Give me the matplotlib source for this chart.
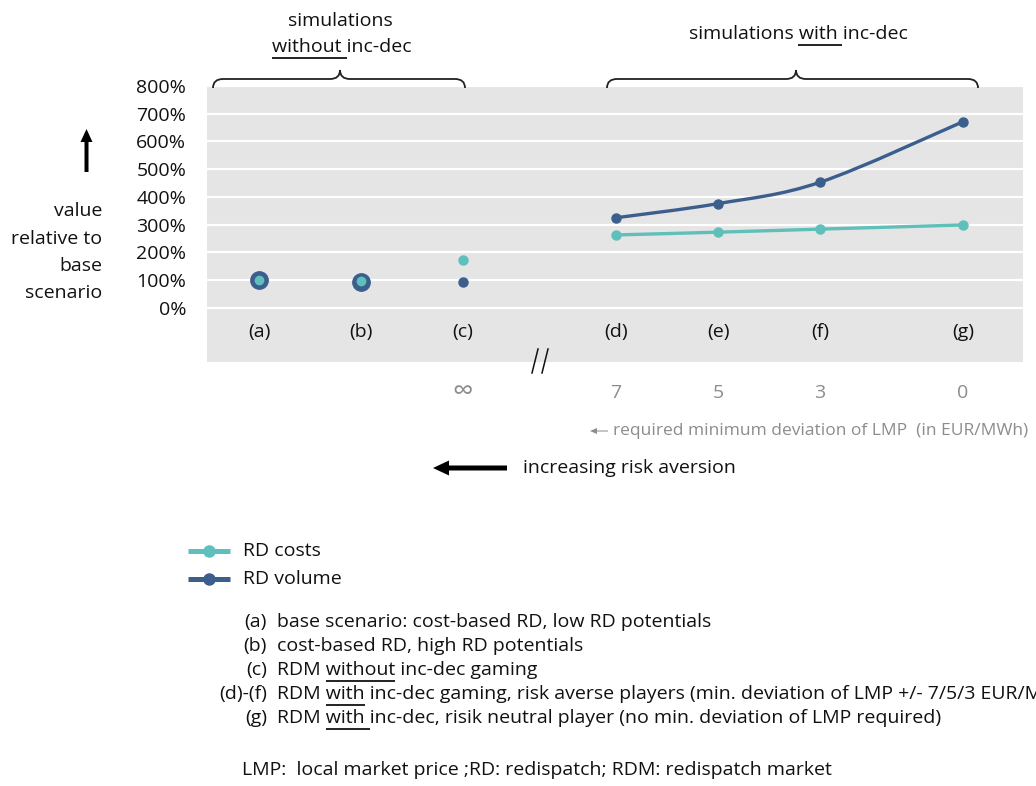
import matplotlib
matplotlib.use("Agg")
import matplotlib.pyplot as plt
import numpy as np
from matplotlib.path import Path
from matplotlib.patches import PathPatch, FancyArrow
from matplotlib import transforms

plt.rcParams['font.family'] = ['Open Sans', 'DejaVu Sans']

# ---------------- data ----------------
categories = ["(a)", "(b)", "(c)", "(d)", "(e)", "(f)", "(g)"]
x_pos = [1, 2, 3, 4.5, 5.5, 6.5, 7.9]
rd_costs = [100, 96, 172, 263, 273, 284, 299]
rd_volume = [100, 95, 95, 325, 376, 453, 671]
lmp_labels = ["∞", "7", "5", "3", "0"]          # for (c)..(g)
y_ticks = [0, 100, 200, 300, 400, 500, 600, 700, 800]

TEAL = "#5FBFBA"
NAVY = "#3B5E8C"
BG = "#E5E5E5"
TXT = "#111111"
GRAY = "#8C8C8C"
FS = 14

W, H = 1036, 786
fig = plt.figure(figsize=(W / 100, H / 100), dpi=100)

ax = fig.add_axes([207 / W, 1 - 362 / H, (1023 - 207) / W, (362 - 86) / H])
ax.set_facecolor(BG)
ax.set_xlim(0.49, 8.49)
ax.set_ylim(-195, 800)
for s in ax.spines.values():
    s.set_visible(False)
ax.set_xticks([])
ax.set_yticks(y_ticks)
ax.set_yticklabels([f"{v}%" for v in y_ticks], fontsize=FS, color=TXT)
ax.tick_params(axis="y", length=0, pad=15)
ax.yaxis.grid(True, color="white", lw=1.6)
ax.set_axisbelow(True)

# overlay in pixel coordinates (on top)
ov = fig.add_axes([0, 0, 1, 1])
ov.set_xlim(0, W)
ov.set_ylim(H, 0)
ov.axis("off")
ov.set_zorder(10)


def smooth_path(xs, ys):
    pts = np.column_stack([xs, ys]).astype(float)
    n = len(pts)
    verts = [pts[0]]
    codes = [Path.MOVETO]
    for i in range(n - 1):
        p0 = pts[i - 1] if i > 0 else pts[i]
        p1 = pts[i]
        p2 = pts[i + 1]
        p3 = pts[i + 2] if i + 2 < n else pts[i + 1]
        c1 = p1 + (p2 - p0) / 6.0
        c2 = p2 - (p3 - p1) / 6.0
        verts += [c1, c2, p2]
        codes += [Path.CURVE4] * 3
    return Path(verts, codes)


# smoothed lines for (d)-(g)
for series, col in [(rd_volume, NAVY), (rd_costs, TEAL)]:
    p = smooth_path(x_pos[3:], series[3:])
    ax.add_patch(PathPatch(p, fill=False, edgecolor=col, lw=2.4,
                           transform=ax.transData, zorder=3, capstyle="round"))

# markers
ax.plot(x_pos[:2], rd_volume[:2], ls="none", marker="o", ms=12.5, color=NAVY, zorder=4)
ax.plot(x_pos[2:], rd_volume[2:], ls="none", marker="o", ms=6.5, color=NAVY, zorder=4)
ax.plot(x_pos[:2], rd_costs[:2], ls="none", marker="o", ms=6.0, color=TEAL, zorder=5)
ax.plot(x_pos[2:], rd_costs[2:], ls="none", marker="o", ms=6.5, color=TEAL, zorder=5)

# category labels inside gray band
for xp, c in zip(x_pos, categories):
    ax.text(xp, -86, c, ha="center", va="center", fontsize=FS, color=TXT)

# break marker
for xb in (532, 542):
    ov.plot([xb, xb + 6], [373, 349], color=TXT, lw=1.1)

# bottom labels (data x, pixel y)
bt = transforms.blended_transform_factory(ax.transData, ov.transData)
for xp, lab in zip(x_pos[2:], lmp_labels):
    ov.text(xp, 393, lab, transform=bt, ha="center", va="center",
            fontsize=FS if lab != "∞" else 21, color=GRAY)

ov.text(613, 431, "required minimum deviation of LMP  (in EUR/MWh)", ha="left",
        va="center", fontsize=12.5, color=GRAY)
ov.add_patch(FancyArrow(608, 431, -18, 0, width=1.0, head_width=6, head_length=7,
                        length_includes_head=True, color=GRAY, lw=0))

# increasing risk aversion
ov.add_patch(FancyArrow(507, 468, -74, 0, width=5, head_width=15, head_length=16,
                        length_includes_head=True, color="black", lw=0))
ov.text(523, 468, "increasing risk aversion", ha="left", va="center", fontsize=FS,
        color=TXT)

# up arrow and y description
ov.add_patch(FancyArrow(86.5, 172, 0, -43, width=4, head_width=12, head_length=13,
                        length_includes_head=True, color="black", lw=0))
for yy, s in zip([211, 239, 266, 293], ["value", "relative to", "base", "scenario"]):
    ov.text(102, yy, s, ha="right", va="center", fontsize=FS, color=TXT)


# braces
def brace(x0, x1, xm, ybot=88, yline=79, ytip=70):
    r = 10
    verts = [(x0, ybot), (x0, yline), (x0 + r, yline),
             (xm - r, yline), (xm, yline), (xm, ytip),
             (xm, yline), (xm + r, yline),
             (x1 - r, yline), (x1, yline), (x1, ybot)]
    codes = [Path.MOVETO, Path.CURVE3, Path.CURVE3,
             Path.LINETO, Path.CURVE3, Path.CURVE3,
             Path.CURVE3, Path.CURVE3,
             Path.LINETO, Path.CURVE3, Path.CURVE3]
    ov.add_patch(PathPatch(Path(verts, codes), fill=False, edgecolor="#222222", lw=1.3))


brace(213, 465, 340)
brace(607, 978, 796)

renderer = fig.canvas.get_renderer()


def text_width(s, fs):
    t = ov.text(0, 0, s + "|", fontsize=fs)
    w1 = t.get_window_extent(renderer).width
    t.remove()
    t = ov.text(0, 0, "|", fontsize=fs)
    w2 = t.get_window_extent(renderer).width
    t.remove()
    return w1 - w2


def underlined_text(xc, y, pre, und, post, fs, ha="center", uy=None):
    full = pre + und + post
    wfull = text_width(full, fs)
    x0 = xc - wfull / 2 if ha == "center" else xc
    ov.text(x0, y, full, ha="left", va="center", fontsize=fs, color=TXT)
    a = x0 + text_width(pre, fs)
    b = x0 + text_width(pre + und, fs)
    ov.plot([a, b], [uy, uy], color=TXT, lw=1.3, solid_capstyle="butt")


ov.text(340, 21, "simulations", ha="center", va="center", fontsize=FS, color=TXT)
underlined_text(342, 47, "", "without ", "inc-dec", FS, uy=58)
underlined_text(798, 34, "simulations ", "with ", "inc-dec", FS, uy=45)

# legend (manual)
for yy, col, lab in [(551, TEAL, "RD costs"), (579, NAVY, "RD volume")]:
    ov.plot([188, 209, 230], [yy, yy, yy], color=col, lw=3.6, marker="o", ms=8,
            markevery=[1], solid_capstyle="butt")
    ov.text(243, yy, lab, ha="left", va="center", fontsize=FS, color=TXT)

# notes
notes = [
    (622, "(a)", None, "base scenario: cost-based RD, low RD potentials"),
    (646, "(b)", None, "cost-based RD, high RD potentials"),
    (670, "(c)", ("RDM ", "without", " inc-dec gaming"), None),
    (694, "(d)-(f)", ("RDM ", "with", " inc-dec gaming, risk averse players (min. deviation of LMP +/- 7/5/3 EUR/MWh)"), None),
    (718, "(g)", ("RDM ", "with ", "inc-dec, risik neutral player (no min. deviation of LMP required)"), None),
]
for yy, lab, parts, txt in notes:
    ov.text(267, yy, lab, ha="right", va="center", fontsize=FS, color=TXT)
    if txt is not None:
        ov.text(277, yy, txt, ha="left", va="center", fontsize=FS, color=TXT)
    else:
        underlined_text(277, yy, parts[0], parts[1], parts[2], FS, ha="left", uy=yy + 11)

ov.text(242, 770, "LMP:  local market price ;RD: redispatch; RDM: redispatch market",
        ha="left", va="center", fontsize=FS, color=TXT)

fig.savefig("out.png", dpi=100)
